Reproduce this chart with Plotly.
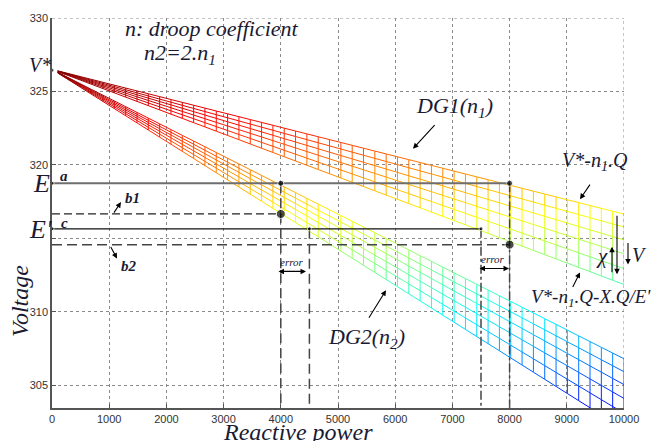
import numpy as np
import plotly.graph_objects as go

# ---------------- data ----------------
x_tick_vals = [0, 1000, 2000, 3000, 4000, 5000, 6000, 7000, 8000, 9000, 10000]
x_tick_text = ["0", "1000", "2000", "3000", "4000", "5000", "6000", "7000", "8000", "9000", "10000"]
y_tick_vals = [305, 310, 315, 320, 325, 330]
y_tick_text = ["305", "310", "", "320", "325", "330"]
x_range = [0, 10000]
y_range = [303.45, 330]

V_star = 326.5            # no-load voltage V*
n1 = 0.000985             # droop coefficient DG1
n2 = 2 * n1               # droop coefficient DG2 (n2 = 2.n1)
Q_grid = np.linspace(100, 10000, 51)   # reactive-power sampling of the mesh
k_drop = [0.0, 0.000088, 0.000176, 0.00027, 0.000371, 0.000479]  # X/E' family

E_level = 318.75          # line a
b1_level = 316.66         # line b1
Ep_level = 315.65         # line c (E')
b2_level = 314.57         # line b2
Q_a_dg2, Q_a_dg1 = 4000, 8000
Q_c_dg2, Q_c_dg1 = 4500, 7500

c_min, c_max = 300.0, 326.5   # colour scale limits (jet)

# ---------------- geometry helpers (figure pixels -> paper) ----------------
W, H = 656, 441
L, R, T, B = 52, 32, 14, 33
PW, PH = W - L - R, H - T - B


def px(xp):
    return (xp - L) / PW


def py(yp):
    return (H - B - yp) / PH


def jet(t):
    t = min(max(t, 0.0), 1.0)
    r = np.clip(min(4 * t - 1.5, -4 * t + 4.5), 0, 1)
    g = np.clip(min(4 * t - 0.5, -4 * t + 3.5), 0, 1)
    b = np.clip(min(4 * t + 0.5, -4 * t + 2.5), 0, 1)
    return f"rgb({int(r*255)},{int(g*255)},{int(b*255)})"


fig = go.Figure()

# ---------------- coloured meshes ----------------
nb = 64
bins = [([], []) for _ in range(nb)]


def add_seg(x0, y0, x1, y1):
    v = 0.5 * (y0 + y1)
    t = (v - c_min) / (c_max - c_min)
    i = int(np.clip(t, 0, 0.9999) * nb)
    bins[i][0].extend([x0, x1, None])
    bins[i][1].extend([y0, y1, None])


for n in (n1, n2):
    V = np.array([[V_star - n * q - k * q for q in Q_grid] for k in k_drop])
    for i in range(len(k_drop)):
        for j in range(len(Q_grid) - 1):
            add_seg(Q_grid[j], V[i, j], Q_grid[j + 1], V[i, j + 1])
    for j in range(len(Q_grid)):
        for i in range(len(k_drop) - 1):
            add_seg(Q_grid[j], V[i, j], Q_grid[j], V[i + 1, j])

for i, (xs, ys) in enumerate(bins):
    if xs:
        fig.add_trace(go.Scatter(x=xs, y=ys, mode="lines",
                                 line=dict(color=jet((i + 0.5) / nb), width=1),
                                 hoverinfo="skip", showlegend=False))

# ---------------- reference lines ----------------
ybot = y_range[0]
lines = [
    ([0, Q_a_dg1], [E_level, E_level], dict(color="#6e6e6e", width=2)),
    ([0, Q_a_dg2], [b1_level, b1_level], dict(color="#222", width=1.3, dash="8px,4px")),
    ([0, Q_c_dg1], [Ep_level, Ep_level], dict(color="#111", width=1.3)),
    ([0, Q_a_dg1], [b2_level, b2_level], dict(color="#444", width=1.5, dash="10px,5px")),
    ([Q_a_dg2, Q_a_dg2], [E_level, ybot], dict(color="#444", width=1.5, dash="10px,5px")),
    ([Q_c_dg2, Q_c_dg2], [Ep_level, ybot], dict(color="#444", width=1.5, dash="10px,5px")),
    ([Q_c_dg1, Q_c_dg1], [Ep_level, ybot], dict(color="#444", width=1.5, dash="dashdot")),
    ([Q_a_dg1, Q_a_dg1], [E_level, ybot], dict(color="#444", width=1.5, dash="dashdot")),
]
for xs, ys, ln in lines:
    fig.add_trace(go.Scatter(x=xs, y=ys, mode="lines", line=ln,
                             hoverinfo="skip", showlegend=False))

# ---------------- dots ----------------
dot_x = [Q_a_dg2, Q_a_dg2, Q_a_dg1, Q_a_dg1, Q_c_dg2, Q_c_dg1, 0, 0, 0]
dot_y = [E_level, b1_level, E_level, b2_level, Ep_level, Ep_level, V_star - 0.05, E_level, Ep_level]
dot_s = [6, 9, 6, 9, 4, 4, 4, 4, 4]
fig.add_trace(go.Scatter(x=dot_x, y=dot_y, mode="markers",
                         marker=dict(color="black", size=dot_s),
                         cliponaxis=False, hoverinfo="skip", showlegend=False))

# ---------------- frame (top / right dotted) ----------------
grid_col = "#8a8a8a"
fig.add_shape(type="line", xref="x", yref="y", x0=0, x1=10000, y0=330, y1=330,
              line=dict(color=grid_col, width=1, dash="dot"))
fig.add_shape(type="line", xref="x", yref="y", x0=10000, x1=10000, y0=y_range[0], y1=330,
              line=dict(color=grid_col, width=1, dash="dot"))

# ---------------- annotations ----------------
ink = "#1a1a33"
SERIF = "Liberation Serif"


def txt(s, x, y, size, weight="normal", **kw):
    fig.add_annotation(text=s, x=px(x), y=py(y), xref="paper", yref="paper",
                       showarrow=False,
                       font=dict(family=SERIF, size=size, color=ink, style="italic", weight=weight),
                       xanchor="center", yanchor="middle", **kw)


def arrow(tx, ty, hx, hy, both=False, width=1.1):
    fig.add_annotation(text="", x=px(hx), y=py(hy), xref="paper", yref="paper",
                       ax=tx - hx, ay=ty - hy, showarrow=True, arrowhead=2,
                       arrowsize=1, arrowwidth=width, arrowcolor="black",
                       arrowside="end+start" if both else "end", standoff=0, startstandoff=0)


txt("n: droop coefficient", 212, 25, 22)
txt("n2=2.n<sub>1</sub>", 180, 50, 22)
txt("V*", 40, 61, 20)
txt("DG1(n<sub>1</sub>)", 454, 104, 22)
txt("V*-n<sub>1</sub>.Q", 595, 159, 20)
txt("V*-n<sub>1</sub>.Q-X.Q/E'", 591, 297, 19)
txt("DG2(n<sub>2</sub>)", 366, 337, 22)
txt("E", 41, 181, 26)
txt("E'", 40, 228, 26)
txt("a", 64, 174, 15, weight="bold")
txt("c", 64, 221, 15, weight="bold")
txt("b1", 132, 196, 15, weight="bold")
txt("b2", 129, 265, 15, weight="bold")
txt("χ", 602, 254, 21)
txt("V", 639, 253, 20)
txt("error", 292, 261, 11)
txt("error", 493, 257, 11)
txt("Voltage", 20, 300, 24, textangle=-90)
txt("Reactive power", 298, 432, 24)

arrow(436, 121, 413, 146)
arrow(591, 181, 580, 197)
arrow(572, 287, 580, 271)
arrow(368, 318, 386, 289)
arrow(113, 212, 121, 200)
arrow(110, 244, 117, 257)
arrow(612, 272, 612, 245)
arrow(617, 213, 617, 273)
arrow(628, 240, 628, 263)
arrow(277, 270, 306, 270, both=True)
arrow(478, 267, 509, 267, both=True)

# ---------------- layout ----------------
axis_common = dict(showgrid=True, gridcolor=grid_col, griddash="dot", gridwidth=1,
                   zeroline=False, showline=True, linecolor="#555", linewidth=1.5,
                   ticks="inside", ticklen=4, tickcolor="#555",
                   tickfont=dict(family="Liberation Sans", size=11, color="#333"))
fig.update_layout(
    width=W, height=H, margin=dict(l=L, r=R, t=T, b=B),
    paper_bgcolor="white", plot_bgcolor="white", showlegend=False,
    xaxis=dict(range=x_range, tickvals=x_tick_vals, ticktext=x_tick_text, **axis_common),
    yaxis=dict(range=y_range, tickvals=y_tick_vals, ticktext=y_tick_text, **axis_common),
)

fig.write_html("out.html")
